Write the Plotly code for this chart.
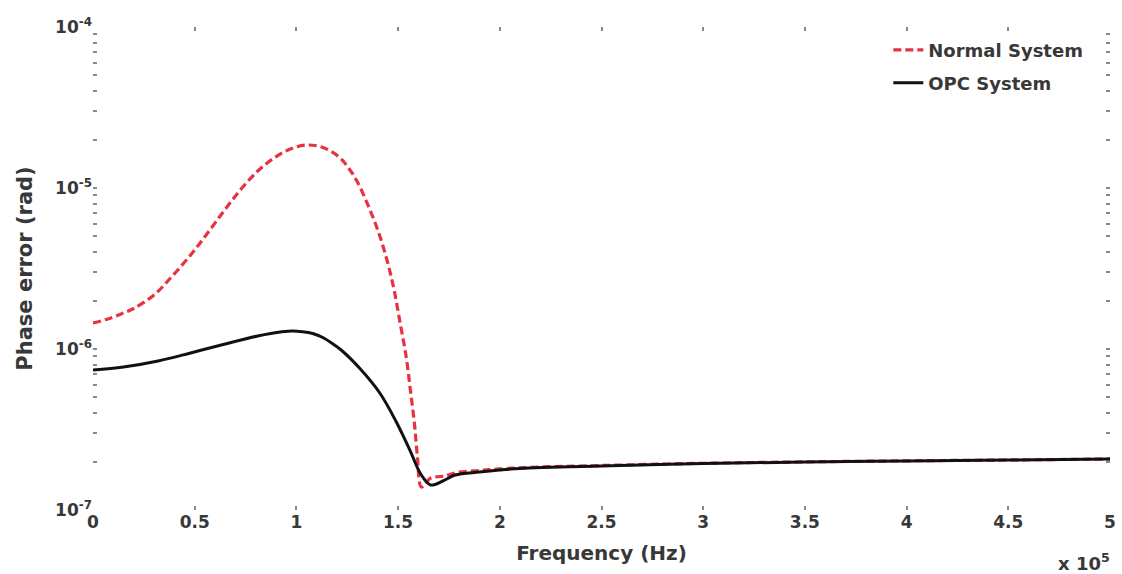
import plotly.graph_objects as go

# Frequency (x 10^5 Hz)
freq_normal = [0, 0.08, 0.15, 0.2, 0.3, 0.39, 0.48, 0.56, 0.64, 0.72, 0.81, 0.89, 0.97, 1.05,
               1.13, 1.21, 1.26, 1.3, 1.36, 1.41, 1.45, 1.48, 1.51, 1.54, 1.56, 1.58, 1.595,
               1.615, 1.66, 1.72, 1.8, 1.9, 2.0, 2.2, 2.5, 3.0, 3.5, 4.0, 4.5, 5.0]
err_normal = [1.45e-6, 1.547e-6, 1.673e-6, 1.785e-6, 2.164e-6, 2.84e-6, 3.836e-6, 5.18e-6,
              7.10e-6, 9.58e-6, 1.275e-5, 1.536e-5, 1.746e-5, 1.849e-5, 1.785e-5, 1.56e-5,
              1.312e-5, 1.09e-5, 7.41e-6, 5.04e-6, 3.39e-6, 2.34e-6, 1.45e-6, 8.9e-7, 5.6e-7,
              3.47e-7, 2.14e-7, 1.39e-7, 1.58e-7, 1.62e-7, 1.72e-7, 1.76e-7, 1.80e-7, 1.85e-7,
              1.89e-7, 1.95e-7, 1.99e-7, 2.02e-7, 2.045e-7, 2.075e-7]

freq_opc = [0, 0.15, 0.32, 0.48, 0.64, 0.81, 0.93, 0.98, 1.03, 1.08, 1.13, 1.18, 1.22, 1.31,
            1.41, 1.49, 1.56, 1.61, 1.66, 1.72, 1.78, 1.9, 2.0, 2.1, 2.5, 3.0, 3.5, 4.0, 4.5, 5.0]
err_opc = [7.41e-7, 7.73e-7, 8.42e-7, 9.45e-7, 1.067e-6, 1.204e-6, 1.279e-6, 1.294e-6,
           1.281e-6, 1.249e-6, 1.179e-6, 1.074e-6, 9.86e-7, 7.62e-7, 5.33e-7, 3.545e-7,
           2.325e-7, 1.685e-7, 1.43e-7, 1.514e-7, 1.65e-7, 1.722e-7, 1.772e-7, 1.81e-7,
           1.876e-7, 1.944e-7, 1.987e-7, 2.015e-7, 2.044e-7, 2.074e-7]

x_ticks = [0, 0.5, 1, 1.5, 2, 2.5, 3, 3.5, 4, 4.5, 5]
x_ticklabels = ["0", "0.5", "1", "1.5", "2", "2.5", "3", "3.5", "4", "4.5", "5"]
y_decades = [-7, -6, -5, -4]

y_tickvals = []
y_ticktext = []
for d in y_decades:
    for m in range(1, 10):
        if d == -4 and m > 1:
            break
        y_tickvals.append(m * 10.0 ** d)
        y_ticktext.append(f"10<sup>{d}</sup>" if m == 1 else "")

FONT = "DejaVu Sans"
TXT = "#383838"

fig = go.Figure()
fig.add_trace(go.Scatter(x=freq_normal, y=err_normal, mode="lines", name="Normal System",
                         legend="legend",
                         line=dict(color="#e8323f", width=3.2, dash="8px,4px", shape="spline")))
fig.add_trace(go.Scatter(x=freq_opc, y=err_opc, mode="lines", name="OPC System",
                         legend="legend2",
                         line=dict(color="#111111", width=3, shape="spline")))

leg_font = dict(family=FONT, size=18, color=TXT, weight="bold")
fig.update_layout(
    width=1122, height=574,
    margin=dict(l=93, r=12, t=27, b=64),
    paper_bgcolor="white", plot_bgcolor="white",
    font=dict(family=FONT, color=TXT, size=15),
    showlegend=True,
    legend=dict(x=0.782, y=0.952, xanchor="left", yanchor="middle", bgcolor="rgba(0,0,0,0)",
                font=leg_font, borderwidth=0),
    legend2=dict(x=0.782, y=0.884, xanchor="left", yanchor="middle", bgcolor="rgba(0,0,0,0)",
                 font=leg_font, borderwidth=0),
    xaxis=dict(range=[0, 5], tickvals=x_ticks, ticktext=x_ticklabels, automargin=False,
               ticks="inside", ticklen=4, tickcolor="#888", tickwidth=2,
               showline=False, mirror="allticks", showgrid=False, zeroline=False,
               tickfont=dict(family=FONT, size=17, color=TXT, weight="bold"),
               title=dict(text="Frequency (Hz)", standoff=14,
                          font=dict(family=FONT, size=20, color=TXT, weight="bold"))),
    yaxis=dict(type="log", range=[-7, -4], tickvals=y_tickvals, ticktext=y_ticktext,
               automargin=False,
               ticks="inside", ticklen=4, tickcolor="#888", tickwidth=2,
               showline=False, mirror="allticks", showgrid=False, zeroline=False,
               tickfont=dict(family=FONT, size=17, color=TXT, weight="bold"),
               title=dict(text="Phase error (rad)", standoff=16,
                          font=dict(family=FONT, size=21, color=TXT, weight="bold"))),
)

fig.add_annotation(x=1.0, y=0, xref="paper", yref="paper", xanchor="right", yanchor="top",
                   yshift=-38, xshift=2, showarrow=False,
                   text="x 10<sup>5</sup>",
                   font=dict(family=FONT, size=18, color=TXT, weight="bold"))

fig.write_html("out.html")
